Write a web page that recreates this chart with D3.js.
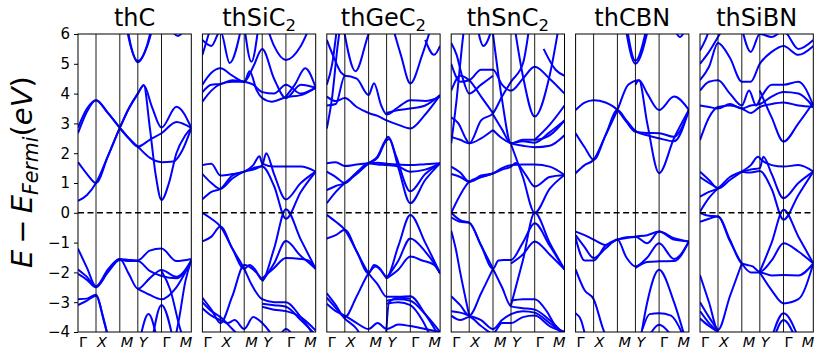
<!DOCTYPE html>
<html lang="en">
<head>
<meta charset="utf-8">
<title>Band structures</title>
<script src="https://cdn.jsdelivr.net/npm/d3@7"></script>
<style>
body { margin: 0; background: #fff; }
svg text { font-family: "DejaVu Sans", sans-serif; fill: #000; }
</style>
</head>
<body>
<div id="chart"></div>
<script>
// k-path: cumulative distance (fraction of path) of the high symmetry points
var kPath = [0, 0.159, 0.369, 0.528, 0.737, 1];
var kLabels = ["Γ", "X", "M", "Y", "Γ", "M"];
var yTicks = [-4, -3, -2, -1, 0, 1, 2, 3, 4, 5, 6];
var titles = [["thC", ""], ["thSiC", "2"], ["thGeC", "2"], ["thSnC", "2"], ["thCBN", ""], ["thSiBN", ""]];

// bands: [k, E] with k = 0..5 along Γ X M Y Γ M
var bandsThC = [
  [[0,2.67],[0.5,3.4],[1,3.78],[1.5,3.35],[2,2.85],[2.5,2.5],[3,2.22],[3.5,1.85],[4,1.7],[4.4,1.72],[4.7,2.1],[5,2.85]],
  [[0,2.86],[0.5,3.5],[1,3.78],[1.5,3.35],[2,2.85],[2.5,2.5],[3,2.22],[3.5,2.45],[4,2.67],[4.5,3.05],[5,2.85]],
  [[0,1.7],[0.5,1.3],[1,1.0],[1.5,1.9],[2,2.85],[2.5,3.5],[3,4.0],[3.25,4.28],[3.6,3.55],[4,2.86],[4.5,3.56],[5,2.85]],
  [[0,0.4],[0.5,0.6],[1,1.0],[1.5,1.9],[2,2.85],[2.5,3.5],[3,4.0],[3.25,4.28],[3.5,2.9],[3.75,1.3],[4,0.43],[4.25,1.0],[4.5,2.0],[4.8,2.6],[5,2.85]],
  [[2.2,6.8],[2.6,5.6],[3,5.05],[3.4,5.6],[3.8,6.8]],
  [[2.25,6.9],[2.6,5.65],[3,5.1],[3.4,5.65],[3.75,6.9]],
  [[4.3,6.2],[4.55,5.93],[4.8,6.2]],
  [[0,-1.2],[0.5,-1.85],[1,-2.47],[1.5,-1.95],[2,-1.55],[2.5,-1.58],[3,-1.6],[3.5,-1.27],[4,-1.2],[4.5,-1.62],[5,-1.55]],
  [[0,-1.9],[0.5,-2.15],[1,-2.47],[1.5,-1.9],[2,-1.55],[2.5,-2.05],[3,-2.55],[3.5,-2.2],[4,-1.92],[4.5,-2.15],[5,-1.6]],
  [[0,-2.05],[0.5,-2.25],[1,-2.5],[1.5,-2.0],[2,-1.58],[2.5,-1.62],[3,-1.62],[3.5,-1.95],[4,-2.12],[4.5,-2.2],[5,-1.62]],
  [[3,-2.55],[3.5,-2.75],[4,-2.9],[4.5,-2.5],[5,-1.6]],
  [[0,-2.9],[0.5,-2.88],[1,-2.75],[1.3,-3.5],[1.6,-4.5]],
  [[0,-3.1],[0.5,-2.95],[1,-2.78],[1.35,-3.7],[1.65,-4.6]],
  [[3.1,-4.2],[3.45,-3.4],[3.8,-4.2]],
  [[3.6,-4.3],[4,-3.09],[4.4,-4.3]],
  [[4,-1.95],[4.3,-2.6],[4.6,-3.8],[4.75,-4.3]],
  [[4.4,-4.5],[4.6,-3.5],[4.8,-2.3],[5,-1.6]]
];

var bandsThSiC2 = [
  [[0,1.6],[0.5,1.65],[1,1.25],[1.5,1.3],[2,1.38],[2.5,1.6],[2.85,1.9],[3,1.65],[3.5,1.55],[4,1.55],[4.5,1.55],[5,1.38]],
  [[0,1.3],[0.5,1.0],[1,0.8],[1.5,1.15],[2,1.38],[2.5,1.45],[3,1.6],[3.17,2.0],[3.5,1.3],[4,0.45],[4.5,1.0],[5,1.38]],
  [[0,0.45],[0.5,0.7],[1,0.8],[1.5,1.25],[2,1.38],[2.5,1.5],[3,1.55],[3.5,0.9],[4,-0.2],[4.5,0.7],[5,1.38]],
  [[0,0.0],[0.5,-0.2],[1,-0.46],[1.5,-1.2],[2,-1.88],[2.3,-1.75],[2.6,-1.9],[3,-2.25],[3.5,-1.2],[4,0.12],[4.5,-0.9],[5,-1.88]],
  [[0,-0.96],[0.5,-0.8],[1,-0.46],[1.5,-1.2],[2,-1.88],[2.4,-2.4],[3,-2.9],[3.5,-3.0],[4,-3.0],[4.5,-3.5],[5,-4.2]],
  [[3,-2.3],[3.5,-1.7],[4,-0.95],[4.5,-1.45],[4.8,-1.7],[5,-1.88]],
  [[3,-2.2],[3.5,-1.85],[4,-1.52],[4.5,-1.55],[4.75,-1.6],[5,-1.88]],
  [[0,-2.85],[0.5,-3.25],[1,-3.7],[1.5,-2.8],[2,-1.75],[2.5,-1.9],[3,-2.25]],
  [[0,-3.0],[0.5,-3.3],[1,-3.5],[1.5,-3.9],[2,-4.3]],
  [[0,-3.2],[0.5,-3.45],[1,-3.6],[1.3,-3.7],[1.6,-3.6],[2,-3.9],[2.5,-3.5],[3,-3.7],[3.5,-4.2]],
  [[3,-3.05],[3.5,-3.1],[4,-3.15],[4.5,-3.6],[5,-4.1]],
  [[3,-3.15],[3.5,-3.25],[4,-3.3],[4.5,-3.5],[5,-3.95]],
  [[3.7,-4.2],[4,-3.9],[4.3,-4.2]],
  [[0,3.73],[0.5,4.1],[1,4.32],[1.5,4.4],[2,4.4],[2.3,4.75],[2.7,4.1],[3,3.85],[3.4,3.73],[4,3.88],[4.5,3.95],[5,4.2]],
  [[0,4.05],[0.5,4.3],[1,4.32],[1.5,4.45],[2,4.4],[2.5,4.3],[3,4.05],[3.5,4.0],[4,4.3],[4.5,4.0],[5,4.2]],
  [[0,4.3],[0.5,4.7],[1,4.85],[1.5,4.6],[2,4.4],[2.5,4.9],[3,5.5],[3.5,4.5],[4,3.85],[4.5,4.3],[5,4.2]],
  [[0,5.3],[0.3,5.9],[0.6,6.5]],
  [[0,5.8],[0.5,5.6],[1,6.1],[1.39,5.03],[1.9,6.3]],
  [[2,6.3],[2.4,5.07],[2.8,6.3]],
  [[3.1,6.5],[3.5,5.6],[4,5.13],[4.5,5.6],[4.9,6.5]],
  [[4,3.9],[4.3,4.3],[4.65,4.85],[5,4.2]]
];

var bandsThGeC2 = [
  [[0,1.66],[0.5,1.7],[1,1.57],[1.5,1.62],[2,1.66],[2.5,1.68],[3,1.65],[3.5,1.62],[4,1.6],[4.5,1.63],[5,1.66]],
  [[0,1.38],[0.5,1.2],[1,1.0],[1.5,1.35],[2,1.66],[2.5,1.62],[3,1.6],[3.5,1.55],[4,1.38],[4.5,1.45],[5,1.66]],
  [[0,0.76],[0.5,0.9],[1,1.0],[1.5,1.35],[2,1.66],[2.5,1.9],[2.9,2.4],[3.07,2.55],[3.4,1.9],[4,0.72],[4.5,1.3],[5,1.66]],
  [[0,0.32],[0.5,0.7],[1,1.0],[1.5,1.3],[2,1.66],[2.5,1.85],[2.95,2.4],[3.1,2.48],[3.5,1.5],[4,0.32],[4.5,1.1],[5,1.66]],
  [[0,-0.07],[0.5,-0.3],[1,-0.57],[1.5,-1.3],[2,-2.03],[2.3,-1.75],[2.6,-1.85],[3,-2.15],[3.5,-1.1],[4,-0.07],[4.5,-1.0],[5,-2.03]],
  [[0,-0.86],[0.5,-0.75],[1,-0.57],[1.5,-1.3],[2,-2.03],[2.5,-2.4],[3,-2.82],[3.5,-2.82],[4,-2.8],[4.5,-3.4],[5,-4.2]],
  [[3,-2.2],[3.5,-1.6],[4,-0.86],[4.5,-1.3],[4.8,-1.7],[5,-2.03]],
  [[3,-2.2],[3.5,-1.9],[4,-1.47],[4.4,-1.6],[4.8,-1.75],[5,-2.03]],
  [[0,-2.7],[0.5,-3.1],[1,-3.5],[1.5,-2.8],[2,-2.03],[2.4,-1.8],[2.7,-1.95],[3,-2.2]],
  [[0,-2.85],[0.5,-3.2],[1,-3.55],[1.5,-3.9],[1.8,-4.3]],
  [[0,-3.05],[0.5,-3.3],[1,-3.45],[1.5,-3.7],[2,-3.9],[2.5,-3.7],[3,-3.9],[3.5,-3.75],[4,-3.8],[4.5,-3.9],[5,-4.0]],
  [[3,-2.95],[3.5,-2.9],[4,-2.95],[4.5,-3.4],[5,-4.0]],
  [[3,-3.05],[3.5,-3.0],[4,-3.1],[4.4,-3.6],[4.7,-4.2]],
  [[2.95,-4.3],[3.1,-3.0],[3.5,-2.85],[4,-2.88]],
  [[3.2,6.4],[3.6,5.3],[4,4.34],[4.4,5.3],[4.75,6.4]],
  [[0,3.9],[0.5,3.75],[1,3.85],[1.5,3.55],[2,3.35],[2.5,3.25],[3,3.1],[3.5,2.95],[4,2.83],[4.5,3.3],[5,3.95]],
  [[0,3.6],[0.5,3.65],[1,4.6],[1.5,4.5],[2,3.95],[2.3,4.35],[2.7,3.6],[3,3.3],[3.5,3.55],[4,3.78],[4.5,3.75],[5,3.9]],
  [[3,3.35],[3.5,3.45],[4,3.5],[4.5,3.6],[5,3.95]],
  [[0,2.83],[0.3,3.9],[0.6,5.6],[0.75,6.3]],
  [[0,5.8],[0.4,5.2],[0.8,4.7],[1,4.6]],
  [[0.9,6.3],[1.45,4.75],[2,6.0],[2.3,6.4]],
  [[0,4.3],[0.3,5.0],[0.6,6.4]],
  [[4.5,5.8],[4.8,5.3],[5,5.6]]
];

var bandsThSnC2 = [
  [[0,1.55],[0.5,1.35],[1,1.04],[1.5,1.2],[2,1.32],[2.5,1.5],[3,1.6],[3.5,1.62],[4,1.62],[4.5,1.55],[5,1.27]],
  [[0,1.3],[0.5,1.2],[1,1.04],[1.5,1.25],[2,1.32],[2.5,1.45],[3,1.55],[3.2,1.67],[3.6,1.3],[4,0.88],[4.5,1.2],[5,1.27]],
  [[0,0.0],[0.5,0.6],[1,1.04],[1.5,1.2],[2,1.32]],
  [[3,2.3],[3.5,1.2],[4,0.0],[4.5,0.8],[5,1.27]],
  [[3,-3.1],[3.5,-1.6],[4,0.0],[4.5,-1.0],[5,-1.9]],
  [[0,0.0],[0.5,-0.25],[1,-0.33],[1.5,-1.1],[2,-1.88],[2.3,-1.6],[2.6,-1.58],[3,-1.58],[3.5,-1.0],[4,-0.35],[4.5,-1.1],[5,-1.9]],
  [[0,-0.15],[0.5,-0.3],[1,-0.33],[1.5,-1.1],[2,-1.88],[2.5,-2.5],[3,-3.14],[3.5,-3.2],[4,-3.25],[4.5,-3.6],[5,-4.1]],
  [[3,-1.7],[3.5,-1.4],[4,-0.96],[4.5,-1.4],[5,-1.9]],
  [[0,-0.6],[0.25,-1.2],[0.5,-2.0],[1,-3.45]],
  [[0,-2.8],[0.5,-3.1],[1,-3.45],[1.5,-2.7],[2,-1.88]],
  [[0,-3.3],[0.5,-3.35],[1,-3.45],[1.5,-3.6],[2,-3.9],[2.5,-3.6],[3,-3.4],[3.5,-3.3],[4,-3.35],[4.5,-3.7],[5,-4.1]],
  [[0,-3.45],[0.5,-3.6],[1,-3.5],[1.5,-3.8],[2,-4.05],[2.5,-3.7],[3,-3.7],[3.5,-3.5],[4,-3.45],[4.5,-3.8],[5,-4.0]],
  [[3,-2.95],[3.5,-2.9],[4,-2.9],[4.4,-3.3],[4.7,-3.8],[5,-4.0]],
  [[3.1,6.5],[3.5,4.6],[4,3.23],[4.5,4.6],[4.85,6.5]],
  [[2,6.0],[2.5,3.8],[3,2.33],[3.5,2.4],[4,2.35],[4.5,2.7],[5,3.1]],
  [[2,3.3],[2.5,2.8],[3,2.33],[3.5,2.45],[4,2.45],[4.5,2.6],[5,3.1]],
  [[2,2.78],[2.5,2.5],[3,2.33],[3.5,2.25],[4,2.2],[4.5,2.25],[5,2.6]],
  [[0,2.55],[0.5,2.45],[1,2.33],[1.5,2.5],[2,2.78]],
  [[0,2.33],[0.3,3.8],[0.6,5.6],[0.75,6.4]],
  [[0,3.2],[0.4,3.0],[0.8,2.5],[1,2.33],[1.5,3.1],[2,3.34],[2.5,3.9],[3,4.4],[3.5,5.0],[3.8,6.4]],
  [[0,4.1],[0.5,4.6],[1,4.45],[1.5,3.9],[2,3.34]],
  [[0,5.0],[0.5,4.4],[1,4.45],[1.5,4.8],[2,4.8],[2.5,4.3],[3,4.1],[3.5,4.5],[4,4.9],[4.5,4.5],[5,4.0]],
  [[0,5.7],[0.3,5.3],[0.6,4.6],[1,4.0],[1.5,4.3],[2,4.6]],
  [[1.3,6.4],[1.6,5.6],[2,6.3]],
  [[4,2.45],[4.5,2.95],[5,3.6]],
  [[4.3,5.5],[4.7,4.8],[5,4.6]]
];

var bandsThCBN = [
  [[0,3.45],[0.5,3.7],[1,3.78],[1.5,3.7],[2,3.45],[2.5,3.05],[3,2.72],[3.5,2.68],[4,2.67],[4.5,2.55],[5,3.45]],
  [[0,2.67],[0.5,2.2],[1,1.78],[1.5,2.6],[2,3.45],[2.6,4.3],[3.15,4.45],[3.5,4.0],[4,3.45],[4.5,3.9],[5,3.45]],
  [[0,1.33],[0.5,1.6],[1,1.78],[1.5,2.6],[2,3.45],[2.5,3.1],[3,2.75],[3.5,2.6],[4,2.5],[4.5,2.4],[5,3.45]],
  [[3,4.3],[3.15,4.45],[3.5,3.0],[4,1.33],[4.5,2.5],[5,3.45]],
  [[2.4,6.4],[3,5.0],[3.6,6.4]],
  [[2.45,6.5],[3,5.1],[3.55,6.5]],
  [[4.5,6.2],[4.7,5.9],[4.9,6.2]],
  [[0,-0.63],[0.5,-0.75],[1,-0.9],[1.5,-1.08],[2,-0.9],[2.5,-0.82],[3,-0.8],[3.5,-1.02],[4,-0.63],[4.5,-0.85],[5,-0.96]],
  [[0,-0.75],[0.5,-1.15],[1,-1.52],[1.5,-1.2],[2,-0.9],[2.5,-1.5],[3,-1.8],[3.5,-1.5],[4,-1.02],[4.5,-1.55],[5,-0.96]],
  [[0,-0.85],[0.5,-1.6],[1,-1.6],[1.5,-1.1],[2,-0.9],[2.5,-0.85],[3,-0.8],[3.5,-0.75],[4,-0.63],[4.5,-0.9],[5,-0.96]],
  [[3,-1.85],[3.5,-1.65],[4,-1.63],[4.5,-1.62],[5,-0.96]],
  [[0,-1.9],[0.5,-2.6],[1,-2.9],[1.4,-3.9],[1.6,-4.3]],
  [[0,-3.37],[0.3,-3.6],[0.6,-4.3]],
  [[3.2,-4.3],[3.5,-3.0],[4,-1.91],[4.5,-3.0],[4.9,-4.3]],
  [[3.3,-3.9],[3.6,-3.4],[4,-3.37],[4.4,-3.45],[4.8,-4.1]],
  [[3.6,-4.1],[4,-3.76],[4.4,-4.1]]
];

var bandsThSiBN = [
  [[0,1.38],[0.5,1.1],[1,0.82],[1.5,1.1],[2,1.38],[2.5,1.6],[2.9,1.88],[3.1,1.75],[3.5,1.6],[4,1.55],[4.5,1.6],[5,1.38]],
  [[0,0.54],[0.5,0.7],[1,0.82],[1.5,1.2],[2,1.38],[2.5,1.45],[3,1.5],[3.15,1.88],[3.5,1.3],[4,0.49],[4.5,1.0],[5,1.38]],
  [[0,1.2],[0.5,1.0],[1,0.82]],
  [[0,0.04],[0.5,0.5],[1,0.82]],
  [[2,1.38],[2.5,1.35],[3,1.4],[3.5,0.8],[4,-0.23],[4.5,0.6],[5,1.38]],
  [[3,-1.98],[3.5,-1.0],[4,0.1],[4.5,-0.8],[5,-1.7]],
  [[0,-0.3],[0.5,-0.2],[1,-0.12],[1.5,-0.9],[2,-1.7],[2.3,-1.75],[2.6,-1.8],[3,-1.98],[3.5,-1.6],[4,-1.02],[4.5,-1.3],[5,-1.7]],
  [[0,0.0],[0.5,-0.1],[1,-0.12],[1.5,-0.95],[2,-1.7],[2.5,-2.0],[3,-2.0],[3.5,-2.1],[4,-2.09],[4.5,-2.1],[5,-1.7]],
  [[3,-2.0],[3.5,-2.6],[4,-3.04],[4.5,-2.9],[5,-1.7]],
  [[0,-2.09],[0.5,-3.0],[1,-3.93],[1.5,-2.8],[2,-1.7]],
  [[0,-3.0],[0.5,-3.5],[1,-3.95]],
  [[0,-3.3],[0.5,-3.7],[1,-3.98]],
  [[0,-3.55],[0.5,-3.8],[1,-4.0]],
  [[3.5,-4.2],[4,-3.37],[4.5,-4.2]],
  [[3.6,-4.2],[4,-3.6],[4.4,-4.2]],
  [[3,4.1],[3.5,3.2],[4,2.39],[4.5,3.0],[5,3.7]],
  [[0,2.44],[0.5,3.2],[1,3.55],[1.5,3.6],[2,3.5],[2.5,3.35],[3,3.55],[3.5,3.65],[4,3.7],[4.5,3.6],[5,3.55]],
  [[0,3.6],[0.5,3.55],[1,3.5],[1.5,3.65],[2,3.5],[2.5,3.6],[3,3.65],[3.5,3.9],[4,4.05],[4.5,4.0],[5,3.55]],
  [[0,4.1],[0.5,4.4],[1,4.45],[1.5,4.0],[2,3.6],[2.4,4.1],[2.8,3.6],[3,3.8],[3.5,4.3],[4,4.3],[4.5,4.4],[5,3.6]],
  [[0,4.45],[0.5,4.9],[1,5.7],[1.5,5.2],[2,4.4],[2.5,4.4],[3,5.0],[3.5,5.4],[4,5.6],[4.5,5.3],[5,5.6]],
  [[0,5.0],[0.5,5.4],[1,5.9],[1.3,6.3]],
  [[0,5.45],[0.3,5.8],[0.6,6.3]],
  [[2,6.2],[2.5,5.4],[3,6.0],[3.5,5.9],[4,6.1],[4.5,5.5],[5,5.8]]
];

var panels = [bandsThC, bandsThSiC2, bandsThGeC2, bandsThSnC2, bandsThCBN, bandsThSiBN];

var width = 822, height = 353;
var left0 = 78, top0 = 34;
var panelW = 113.3, panelH = 298, step = 124.4;

var svg = d3.select("#chart").append("svg")
    .attr("width", width)
    .attr("height", height);

var y = d3.scaleLinear().domain([-4, 6]).range([panelH, 0]);

panels.forEach(function (bands, i) {
    var x = d3.scaleLinear()
        .domain(d3.range(kPath.length))
        .range(kPath.map(function (f) { return f * panelW; }));

    var g = svg.append("g")
        .attr("transform", "translate(" + (left0 + i * step) + "," + top0 + ")");

    g.append("clipPath").attr("id", "clip" + i)
        .append("rect").attr("width", panelW).attr("height", panelH);

    var line = d3.line()
        .x(function (d) { return x(d[0]); })
        .y(function (d) { return y(d[1]); })
        .curve(d3.curveMonotoneX);

    var plot = g.append("g").attr("clip-path", "url(#clip" + i + ")");

    plot.selectAll("path.band")
        .data(bands)
        .join("path")
        .attr("class", "band")
        .attr("d", line)
        .attr("fill", "none")
        .attr("stroke", "#0000ff")
        .attr("stroke-width", 2);

    // high symmetry lines
    plot.selectAll("line.hs")
        .data([1, 2, 3, 4])
        .join("line")
        .attr("x1", x).attr("x2", x)
        .attr("y1", 0).attr("y2", panelH)
        .attr("stroke", "#000")
        .attr("stroke-width", 0.9);

    // fermi level
    plot.append("line")
        .attr("x1", 0).attr("x2", panelW)
        .attr("y1", y(0)).attr("y2", y(0))
        .attr("stroke", "#000")
        .attr("stroke-width", 1.5)
        .attr("stroke-dasharray", "6,3.5");

    g.append("rect")
        .attr("width", panelW).attr("height", panelH)
        .attr("fill", "none")
        .attr("stroke", "#000")
        .attr("stroke-width", 1);

    // title
    var t = g.append("text")
        .attr("x", panelW / 2)
        .attr("y", -8)
        .attr("text-anchor", "middle")
        .attr("font-size", 24)
        .text(titles[i][0]);
    if (titles[i][1]) {
        t.append("tspan").attr("font-size", 16.5).attr("dy", 5).text(titles[i][1]);
    }

    // k labels
    g.selectAll("text.k")
        .data(kLabels)
        .join("text")
        .attr("class", "k")
        .attr("x", function (d, j) { return x(j) + 1; })
        .attr("y", panelH + 15)
        .attr("text-anchor", function (d, j) { return j === 5 ? "end" : "start"; })
        .attr("font-size", 14.5)
        .attr("font-style", function (d) { return d === "Γ" ? "normal" : "italic"; })
        .text(function (d) { return d; });

    if (i === 0) {
        var ya = d3.axisLeft(y).tickValues(yTicks).tickSize(4).tickPadding(4)
            .tickFormat(function (d) { return d < 0 ? "\u2212" + Math.abs(d) : d; });
        var ax = g.append("g").call(ya);
        ax.select(".domain").remove();
        ax.selectAll("text").attr("font-size", 15).style("font-family", "DejaVu Sans");
        ax.selectAll("line").attr("stroke-width", 1);
    }
});

// y label, reads bottom to top from the lower end
var yl = svg.append("text")
    .attr("transform", "translate(32,268) rotate(-90)")
    .attr("text-anchor", "start")
    .attr("font-size", 29);
yl.append("tspan").attr("font-style", "italic").text("E");
yl.append("tspan").attr("dx", 6).text("\u2212");
yl.append("tspan").attr("dx", 6).attr("font-style", "italic").text("E");
yl.append("tspan").attr("font-style", "italic").attr("font-size", 20.5).attr("dy", 6).text("Fermi");
yl.append("tspan").attr("dy", -6).text("(");
yl.append("tspan").attr("font-style", "italic").text("eV");
yl.append("tspan").text(")");
</script>
</body>
</html>
